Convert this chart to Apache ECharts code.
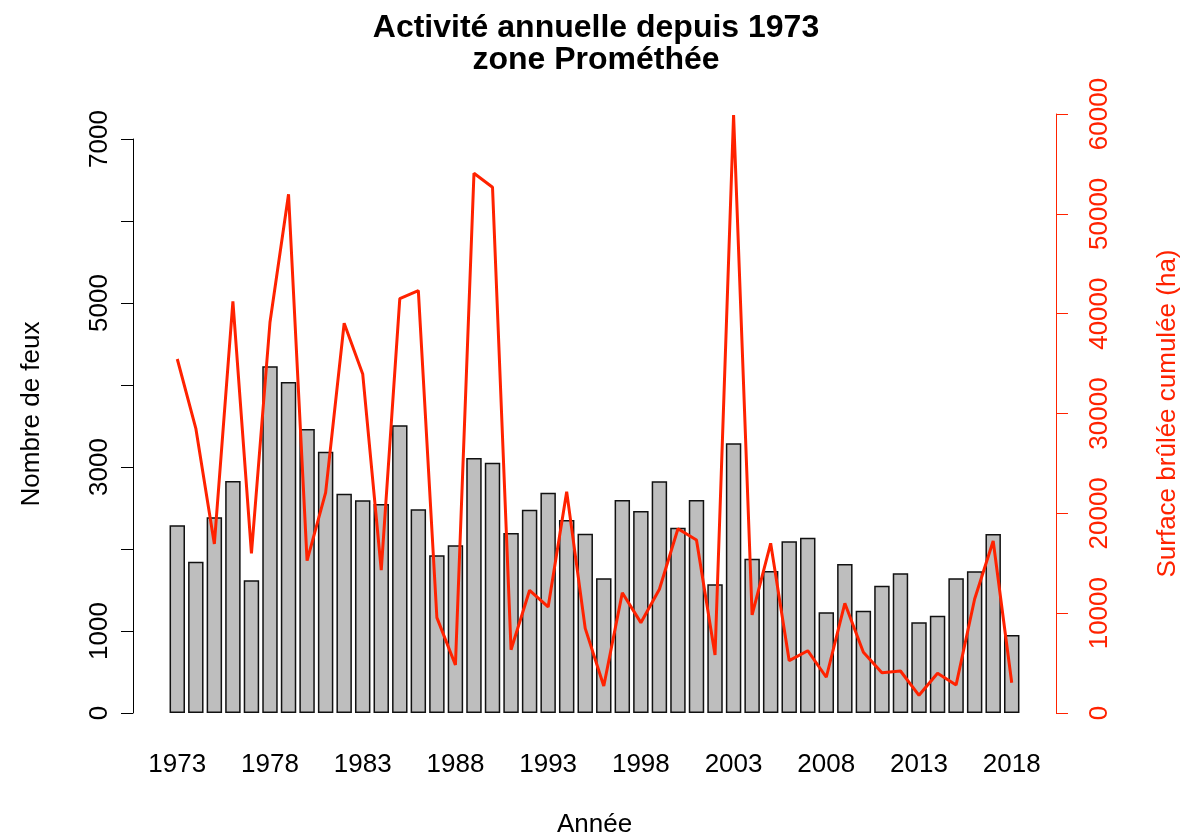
<!DOCTYPE html>
<html>
<head>
<meta charset="utf-8">
<script src="https://cdn.jsdelivr.net/npm/echarts@6/dist/echarts.min.js"></script>
<style>
html,body{margin:0;padding:0;background:#fff;}
#c{width:1192px;height:838px;}
</style>
</head>
<body>
<div id="c"></div>
<script>
const years = [1973,1974,1975,1976,1977,1978,1979,1980,1981,1982,1983,1984,1985,1986,1987,1988,1989,1990,1991,1992,1993,1994,1995,1996,1997,1998,1999,2000,2001,2002,2003,2004,2005,2006,2007,2008,2009,2010,2011,2012,2013,2014,2015,2016,2017,2018];
const nbFeux = [2290,1845,2386,2829,1618,4228,4037,3463,3187,2675,2593,2549,3508,2484,1923,2045,3110,3053,2195,2480,2687,2354,2187,1642,2598,2463,2825,2260,2598,1569,3289,1882,1732,2093,2138,1228,1817,1248,1553,1703,1106,1187,1642,1728,2183,951];
const surface = [35460,28520,16930,41240,16000,39140,51960,15260,22070,39040,33960,14320,41500,42300,9550,4810,54060,52660,6340,12290,10620,22170,8480,2700,12050,9050,12390,18460,17330,5810,59900,9820,17000,5240,6240,3580,10990,6080,4040,4210,1770,3980,2800,11420,17230,3030];
const leftTicks = [0,1000,3000,5000,7000];
const rightTicks = [0,10000,20000,30000,40000,50000,60000];

const FONT = '"Liberation Sans", Arial, Helvetica, sans-serif';
const RED = '#ff2200';
const FS = 26;
const chart = echarts.init(document.getElementById('c'), null, {renderer:'canvas'});
const cats = years.map(String);
chart.setOption({
  animation:false,
  backgroundColor:'#ffffff',
  textStyle:{fontFamily:FONT},
  title:{
    text:'Activité annuelle depuis 1973\nzone Prométhée',
    left:'center', top:7,
    textStyle:{fontFamily:FONT, fontSize:32, fontWeight:'bold', color:'#000', lineHeight:32}
  },
  grid:[
    {left:168, right:171, top:139, bottom:125, outerBoundsMode:'none', containLabel:false},
    {left:168, right:171, top:114, bottom:125, outerBoundsMode:'none', containLabel:false}
  ],
  xAxis:[
    {type:'category', gridIndex:0, data:cats, boundaryGap:true,
     axisLine:{show:false}, axisTick:{show:false},
     axisLabel:{interval:4, margin:39, fontSize:FS, color:'#000', fontFamily:FONT},
     name:'Année', nameLocation:'middle', nameGap:99,
     nameTextStyle:{fontSize:FS, color:'#000', fontFamily:FONT}},
    {type:'category', gridIndex:1, data:cats, boundaryGap:true, show:false}
  ],
  yAxis:[
    {type:'value', gridIndex:0, position:'left', offset:35, min:0, max:7000, interval:1000,
     splitLine:{show:false},
     axisLine:{show:true, lineStyle:{color:'#000', width:1}},
     axisTick:{show:true, length:12, lineStyle:{color:'#000', width:1}},
     axisLabel:{rotate:90, margin:20, fontSize:FS, color:'#000', fontFamily:FONT,
       formatter:function(v){return leftTicks.indexOf(v)>=0 ? String(v) : '';}},
     name:'Nombre de feux', nameLocation:'middle', nameGap:88, nameRotate:90,
     nameTextStyle:{fontSize:FS, color:'#000', fontFamily:FONT, padding:[0,0,0,24]}},
    {type:'value', gridIndex:1, position:'right', offset:35, min:0, max:60000, interval:10000,
     splitLine:{show:false},
     axisLine:{show:true, lineStyle:{color:RED, width:1}},
     axisTick:{show:true, length:12, lineStyle:{color:RED, width:1}},
     axisLabel:{rotate:90, margin:31, fontSize:FS, color:RED, fontFamily:FONT,
       formatter:function(v){return rightTicks.indexOf(v)>=0 ? String(v) : '';}},
     name:'Surface brûlée cumulée (ha)', nameLocation:'middle', nameGap:99, nameRotate:90,
     nameTextStyle:{fontSize:FS, color:RED, fontFamily:FONT}}
  ],
  series:[
    {type:'bar', xAxisIndex:0, yAxisIndex:0, data:nbFeux, barCategoryGap:'16.7%',
     itemStyle:{color:'#bebebe', borderColor:'#111', borderWidth:1.5}, z:2},
    {type:'line', xAxisIndex:1, yAxisIndex:1, data:surface, symbol:'none',
     lineStyle:{color:RED, width:3}, itemStyle:{color:RED}, z:5}
  ]
});
</script>
</body>
</html>
